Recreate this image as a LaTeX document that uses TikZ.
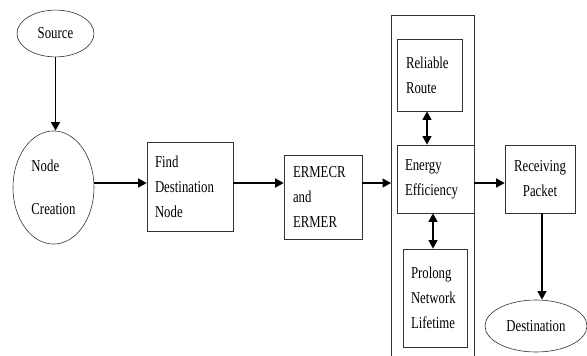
\documentclass[tikz,border=0pt]{standalone}
\usepackage{fontspec}
\setmainfont{Liberation Serif}
\usepackage{tikz}
\usetikzlibrary{arrows.meta,shapes.geometric}

\begin{document}
\begin{tikzpicture}[x=1pt,y=-1pt,
  txt/.style={font=\rmfamily\fontsize{12.8}{19.2}\selectfont,yscale=1.3,inner ysep=0pt},
  blk/.style={txt,draw=black!80,line width=0.6pt,rectangle,align=left,inner xsep=8pt},
  oval/.style={txt,draw=black!80,line width=0.6pt,ellipse,inner sep=0pt,align=left},
  arr/.style={-{Triangle[length=8.5pt,width=9pt]},line width=1.4pt},
  dbl/.style={{Triangle[length=8.5pt,width=9pt]}-{Triangle[length=8.5pt,width=9pt]},line width=1.4pt}]
 \useasboundingbox (0,0) rectangle (587,356);
 \coordinate (lane) at (0,183);
 \node[draw=black!80,line width=0.6pt,anchor=north west,minimum width=83pt,minimum height=360pt,inner sep=0pt] (grp) at (391,15) {};
 \node[oval,minimum width=77pt,minimum height=36pt] (src) at (55.5,33.5) {Source};
 \node[oval,minimum width=81pt,minimum height=87pt] (ncr) at (53.5,187.5) {Node\\[13.8pt]Creation};
 \node[blk,minimum width=86pt,minimum height=68.5pt,text width=70pt] (find) at (190,186.5) {Find\\Destination\\Node};
 \node[blk,minimum width=78pt,minimum height=64.6pt,text width=60pt,inner xsep=9pt] (erm) at (323,197) {ERMECR\\and\\ERMER};
 \node[blk,minimum width=65pt,minimum height=55.4pt,text width=47pt,inner xsep=9pt] (rel) at (429.5,75) {Reliable\\Route};
 \node[blk,minimum width=77pt,minimum height=52.3pt,text width=61pt] (eng) at (435.5,179) {Energy\\Efficiency};
 \node[blk,minimum width=64pt,minimum height=75.4pt,text width=48pt] (pro) at (435,298) {Prolong\\Network\\Lifetime};
 \node[blk,minimum width=70pt,minimum height=52.3pt,text width=54pt,align=center] (rec) at (540,179) {Receiving\\Packet};
 \node[oval,minimum width=102pt,minimum height=40pt] (dst) at (536,326) {Destination};
 \draw[arr] (src.south) -- (src.south |- ncr.north);
 \draw[arr] (ncr.east |- lane) -- (find.west |- lane);
 \draw[arr] (find.east |- lane) -- (erm.west |- lane);
 \draw[arr] (erm.east |- lane) -- (grp.west |- lane);
 \draw[arr] (eng.east |- lane) -- (rec.west |- lane);
 \draw[dbl] ([xshift=-2.5pt]rel.south) -- ([xshift=-2.5pt]rel.south |- eng.north);
 \draw[dbl] ([xshift=-2pt]pro.north) -- ([xshift=-2pt]pro.north |- eng.south);
 \draw[arr] ([xshift=2pt]rec.south) -- ([xshift=2pt]rec.south |- dst.north);
\end{tikzpicture}
\end{document}
